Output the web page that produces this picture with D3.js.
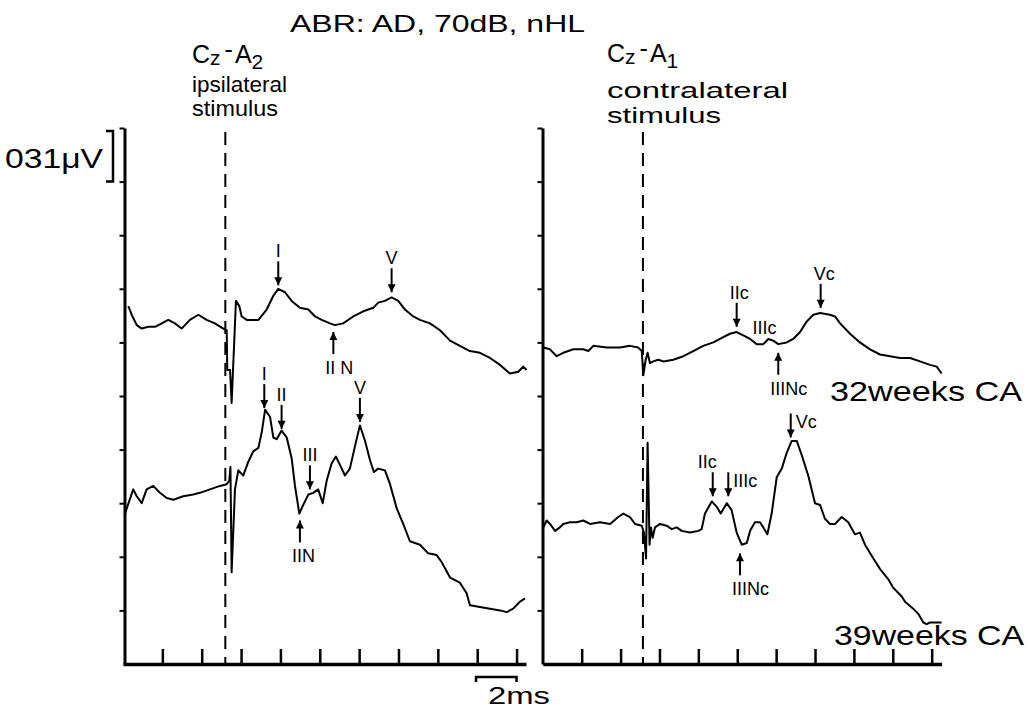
<!DOCTYPE html>
<html>
<head>
<meta charset="utf-8">
<script src="https://cdn.jsdelivr.net/npm/d3@7"></script>
<style>
  body { margin: 0; background: #fff; }
  text { font-family: "Liberation Sans", Arial, Helvetica, sans-serif; fill: #000; }
</style>
</head>
<body>
<svg width="1028" height="709"></svg>
<script>
// ABR traces, [time ms, amplitude uV]
const ipsi32 = [
  [0.27, 2.07], [0.44, 2.02], [0.70, 1.96], [0.95, 1.94], [1.29, 1.95], [1.63, 1.95],
  [1.97, 1.97], [2.30, 1.99], [2.64, 1.97], [2.98, 1.94], [3.40, 1.99], [3.83, 2.02],
  [4.25, 1.99], [4.67, 1.97], [5.10, 1.94], [5.27, 1.93], [5.30, 1.70], [5.44, 1.70],
  [5.52, 1.51], [5.74, 2.10], [5.91, 2.07], [6.03, 2.01], [6.29, 1.99], [6.88, 1.99],
  [7.30, 2.05], [7.64, 2.13], [7.89, 2.17], [8.23, 2.15], [8.57, 2.10], [8.99, 2.06],
  [9.42, 2.05], [9.76, 2.01], [10.10, 1.99], [10.52, 1.97], [10.77, 1.96], [11.19, 1.97],
  [11.70, 2.01], [12.21, 2.04], [12.72, 2.06], [12.97, 2.09], [13.31, 2.10], [13.65, 2.12],
  [13.99, 2.10], [14.33, 2.05], [14.75, 2.01], [15.09, 1.99], [15.60, 1.97], [16.11, 1.93],
  [16.62, 1.87], [17.12, 1.84], [17.63, 1.81], [18.14, 1.80], [18.65, 1.77], [19.16, 1.73],
  [19.66, 1.68], [20.09, 1.69], [20.34, 1.72], [20.51, 1.70]
];
const ipsi39 = [
  [0.10, 0.87], [0.52, 1.01], [0.70, 0.97], [0.95, 0.93], [1.20, 1.01], [1.54, 1.03],
  [1.88, 0.99], [2.22, 0.96], [2.56, 0.95], [3.06, 0.97], [3.57, 0.98], [3.91, 0.99],
  [4.42, 1.01], [4.93, 1.03], [5.27, 1.04], [5.40, 1.06], [5.46, 1.14], [5.52, 0.53],
  [5.69, 1.01], [5.86, 1.12], [6.11, 1.09], [6.37, 1.17], [6.62, 1.23], [6.88, 1.25],
  [7.05, 1.34], [7.22, 1.47], [7.47, 1.43], [7.64, 1.31], [7.81, 1.30], [8.06, 1.35],
  [8.32, 1.31], [8.57, 1.19], [8.74, 1.03], [8.96, 0.87], [9.16, 0.92], [9.42, 0.98],
  [9.67, 0.99], [9.92, 1.01], [10.15, 0.93], [10.35, 1.06], [10.60, 1.16], [10.82, 1.20],
  [11.03, 1.15], [11.28, 1.09], [11.53, 1.13], [11.79, 1.26], [12.04, 1.38], [12.30, 1.29],
  [12.55, 1.18], [12.75, 1.11], [12.97, 1.13], [13.31, 1.12], [13.57, 1.04], [13.91, 0.90],
  [14.24, 0.81], [14.58, 0.71], [15.09, 0.69], [15.51, 0.64], [15.94, 0.63], [16.19, 0.59],
  [16.62, 0.50], [17.12, 0.47], [17.46, 0.41], [17.63, 0.34], [18.14, 0.33], [18.65, 0.32],
  [19.16, 0.31], [19.50, 0.30], [19.83, 0.32], [20.17, 0.36], [20.43, 0.38]
];
const contra32 = [
  [0.03, 1.83], [0.37, 1.82], [0.71, 1.78], [1.05, 1.80], [1.57, 1.82], [2.08, 1.82],
  [2.34, 1.81], [2.60, 1.84], [3.29, 1.83], [3.97, 1.83], [4.48, 1.84], [4.91, 1.83],
  [5.09, 1.81], [5.17, 1.67], [5.29, 1.76], [5.39, 1.80], [5.51, 1.74], [5.68, 1.75],
  [5.94, 1.76], [6.20, 1.75], [6.71, 1.76], [7.23, 1.78], [7.74, 1.81], [8.25, 1.84],
  [8.77, 1.86], [9.28, 1.89], [9.63, 1.91], [9.97, 1.92], [10.31, 1.90], [10.66, 1.88],
  [11.00, 1.85], [11.34, 1.85], [11.60, 1.88], [11.85, 1.87], [12.11, 1.85], [12.54, 1.86],
  [12.88, 1.88], [13.23, 1.92], [13.57, 1.98], [13.91, 2.02], [14.26, 2.03], [14.77, 2.02],
  [15.03, 2.01], [15.29, 1.97], [15.80, 1.91], [16.31, 1.86], [16.83, 1.82], [17.34, 1.79],
  [17.86, 1.78], [18.37, 1.77], [18.89, 1.77], [19.40, 1.75], [19.91, 1.73], [20.26, 1.72],
  [20.51, 1.68]
];
const contra39 = [
  [0.03, 0.79], [0.20, 0.83], [0.37, 0.81], [0.63, 0.77], [0.88, 0.79], [1.05, 0.81],
  [1.40, 0.82], [1.74, 0.82], [2.08, 0.83], [2.43, 0.81], [2.94, 0.82], [3.46, 0.81],
  [3.88, 0.85], [4.14, 0.87], [4.48, 0.85], [4.74, 0.81], [5.09, 0.80], [5.20, 0.76],
  [5.31, 0.61], [5.39, 1.28], [5.49, 0.69], [5.56, 0.79], [5.65, 0.73], [5.77, 0.79],
  [6.03, 0.81], [6.37, 0.80], [6.63, 0.78], [6.89, 0.79], [7.14, 0.77], [7.57, 0.76],
  [8.00, 0.77], [8.17, 0.78], [8.34, 0.87], [8.69, 0.94], [8.94, 0.91], [9.15, 0.87],
  [9.46, 0.93], [9.71, 0.89], [9.97, 0.76], [10.23, 0.69], [10.49, 0.70], [10.66, 0.77],
  [10.91, 0.82], [11.17, 0.82], [11.34, 0.79], [11.55, 0.75], [11.77, 0.87], [12.03, 1.08],
  [12.29, 1.13], [12.54, 1.22], [12.80, 1.29], [13.06, 1.29], [13.31, 1.21], [13.65, 1.09],
  [14.00, 0.93], [14.26, 0.92], [14.51, 0.84], [14.77, 0.81], [15.03, 0.81], [15.37, 0.85],
  [15.71, 0.82], [16.05, 0.75], [16.31, 0.76], [16.57, 0.69], [17.00, 0.61], [17.34, 0.55],
  [17.77, 0.49], [18.03, 0.44], [18.46, 0.39], [18.63, 0.36], [19.05, 0.32], [19.31, 0.29],
  [19.57, 0.24], [19.74, 0.23], [19.91, 0.24], [20.08, 0.24], [20.34, 0.24], [20.51, 0.24]
];

// peak markers: tip of arrow at [t, v]
const ipsiPeaks = [
  { label: 'I', t: 7.89, v: 2.19, dir: 'down' },
  { label: 'V', t: 13.65, v: 2.15, dir: 'down' },
  { label: 'II N', t: 10.69, v: 1.92, dir: 'up' },
  { label: 'I', t: 7.18, v: 1.48, dir: 'down' },
  { label: 'II', t: 8.06, v: 1.36, dir: 'down' },
  { label: 'III', t: 9.50, v: 1.01, dir: 'down' },
  { label: 'V', t: 12.04, v: 1.40, dir: 'down' },
  { label: 'IIN', t: 8.99, v: 0.83, dir: 'up' }
];
const contraPeaks = [
  { label: 'IIc', t: 9.97, v: 1.95, dir: 'down' },
  { label: 'IIINc', t: 12.11, v: 1.80, dir: 'up' },
  { label: 'Vc', t: 14.29, v: 2.06, dir: 'down' },
  { label: 'IIc', t: 8.74, v: 0.97, dir: 'down', dx: -8 },
  { label: 'IIIc', t: 9.54, v: 0.97, dir: 'down', side: 'right' },
  { label: 'IIINc', t: 10.14, v: 0.64, dir: 'up' },
  { label: 'Vc', t: 12.75, v: 1.31, dir: 'down', side: 'right' }
];
const contraTextOnly = [{ label: 'IIIc', t: 10.79, v: 1.91 }];

const stimulusMs = [5.2, 5.15];
const xTicks = [2, 4, 6, 8, 10, 12, 14, 16, 18, 20];
const yTicks = d3.range(1, 11).map(k => +(k * 0.31).toFixed(2));
const ageLabels = ['32weeks CA', '39weeks CA'];

const svg = d3.select('svg');

const y = d3.scaleLinear().domain([0, 3.1]).range([664, 128]);
const xL = d3.scaleLinear().domain([0, 20.48]).range([123, 526]);
const xR = d3.scaleLinear().domain([0, 20.51]).range([542.8, 941.6]);

svg.append('defs').append('marker')
  .attr('id', 'head')
  .attr('markerUnits', 'userSpaceOnUse')
  .attr('viewBox', '0 0 10 10')
  .attr('refX', 10).attr('refY', 5)
  .attr('markerWidth', 9).attr('markerHeight', 8)
  .attr('orient', 'auto')
  .append('path').attr('d', 'M0,0L10,5L0,10Z').attr('fill', '#000');

// axes
function drawAxes(x, axisX) {
  const gy = svg.append('g')
    .attr('transform', `translate(${axisX},0)`)
    .call(d3.axisLeft(y).tickValues(yTicks).tickSize(5).tickSizeOuter(0).tickFormat(''));
  gy.select('.domain').attr('stroke-width', 3);
  gy.selectAll('.tick line').attr('stroke-width', 2);

  const gx = svg.append('g')
    .attr('transform', `translate(0,${y(0)})`)
    .call(d3.axisBottom(x).tickValues(xTicks).tickSize(-15).tickSizeOuter(0).tickFormat(''));
  gx.select('.domain').attr('stroke-width', 3.5);
  gx.selectAll('.tick line').attr('stroke-width', 2.5);
}
drawAxes(xL, 124.5);
drawAxes(xR, 542.5);

// stimulus onset
[[xL, stimulusMs[0]], [xR, stimulusMs[1]]].forEach(([x, t]) => {
  svg.append('line')
    .attr('x1', x(t)).attr('x2', x(t))
    .attr('y1', 132).attr('y2', 664)
    .attr('stroke', '#000').attr('stroke-width', 2)
    .attr('stroke-dasharray', '13,8');
});

// traces
const lineFor = x => d3.line().x(d => x(d[0])).y(d => y(d[1]));
[[ipsi32, xL], [ipsi39, xL], [contra32, xR], [contra39, xR]].forEach(([data, x]) => {
  svg.append('path')
    .datum(data)
    .attr('d', lineFor(x))
    .attr('fill', 'none')
    .attr('stroke', '#000')
    .attr('stroke-width', 2)
    .attr('stroke-linejoin', 'round');
});

// peak arrows + labels
function drawPeaks(peaks, x) {
  peaks.forEach(p => {
    const px = x(p.t), tip = y(p.v);
    const tail = p.dir === 'down' ? tip - 24 : tip + 22;
    svg.append('line')
      .attr('x1', px).attr('x2', px).attr('y1', tail).attr('y2', tip)
      .attr('stroke', '#000').attr('stroke-width', 2)
      .attr('marker-end', 'url(#head)');
    const t = svg.append('text').attr('font-size', 18).text(p.label);
    if (p.dir === 'up') {
      t.attr('x', px - 8).attr('y', tail + 20);
    } else if (p.side === 'right') {
      t.attr('x', px + 5).attr('y', tail + 15);
    } else if (p.label.endsWith('c')) {
      t.attr('x', px - 7 + (p.dx || 0)).attr('y', tail - 4);
    } else {
      t.attr('x', px).attr('y', tail - 4).attr('text-anchor', 'middle');
    }
  });
}
drawPeaks(ipsiPeaks, xL);
drawPeaks(contraPeaks, xR);
contraTextOnly.forEach(p => {
  svg.append('text').attr('font-size', 18)
    .attr('x', xR(p.t)).attr('y', y(p.v)).text(p.label);
});

// stretched text helper
function wideText(s, x, yy, fs, w) {
  return svg.append('text').attr('x', x).attr('y', yy).attr('font-size', fs)
    .attr('textLength', w).attr('lengthAdjust', 'spacingAndGlyphs').text(s);
}

// headings
wideText('ABR: AD, 70dB, nHL', 290, 32, 24, 295);

function montage(x, base, sub) {
  const t = svg.append('text').attr('x', x).attr('y', base).attr('font-size', 25);
  t.append('tspan').text('C');
  t.append('tspan').attr('font-size', 21).attr('dy', 2).text('z');
  t.append('tspan').attr('dy', -7).attr('dx', 4).text('-');
  t.append('tspan').attr('dy', 5).attr('dx', 2).text('A');
  t.append('tspan').attr('font-size', 21).attr('dy', 6).text(sub);
}
montage(192, 63, '2');
montage(607, 62, '1');

wideText('ipsilateral', 192, 92, 22, 95);
wideText('stimulus', 192, 116, 22, 86);
wideText('contralateral', 607, 98, 22, 181);
wideText('stimulus', 607, 123, 22, 114);

// scale bars
wideText('031\u03bcV', 5, 168, 28, 98);
svg.append('path')
  .attr('d', `M106,${y(3.1) + 3}H113V${y(2.79)}H106`)
  .attr('fill', 'none').attr('stroke', '#000').attr('stroke-width', 2.5);

svg.append('path')
  .attr('d', `M${xL(17.94)},682V677H${xL(20)}V682`)
  .attr('fill', 'none').attr('stroke', '#000').attr('stroke-width', 2.5);
wideText('2ms', 488, 704, 24, 62);

// ages
wideText(ageLabels[0], 830, 401, 28, 192);
wideText(ageLabels[1], 834, 645, 28, 190);
</script>
</body>
</html>
